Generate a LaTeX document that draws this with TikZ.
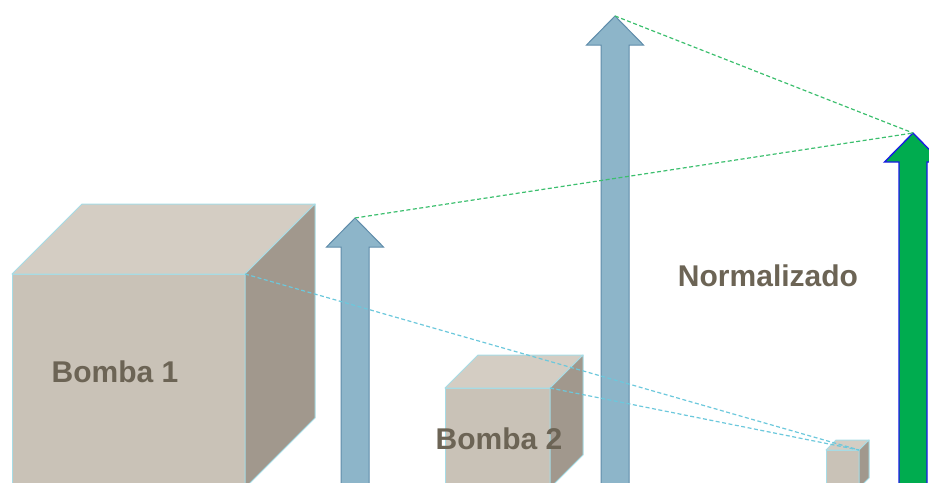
\documentclass[tikz,border=0pt]{standalone}
\usepackage{fontspec}
\setmainfont{Liberation Sans}
\usetikzlibrary{calc}

\definecolor{cubefront}{HTML}{C9C2B7}
\definecolor{cubetop}{HTML}{D4CDC3}
\definecolor{cubeside}{HTML}{A1988D}
\definecolor{cubeedge}{HTML}{A6DCE6}
\definecolor{bluefill}{HTML}{8DB5C9}
\definecolor{blueedge}{HTML}{5F8CAA}
\definecolor{greenfill}{HTML}{00AC4F}
\definecolor{greenedge}{HTML}{1A1AE6}
\definecolor{labelcol}{HTML}{6C6455}
\definecolor{greendash}{HTML}{3CBF6E}
\definecolor{cyandash}{HTML}{6CC8DC}

% cube: name, left, top, width, depth (all sit on the same floor)
\newcommand{\bombacube}[5]{%
  \coordinate (#1) at (#2+#4,#3);
  \filldraw[cubeline,fill=cubefront] (#2,#3) rectangle (#2+#4,488);
  \filldraw[cubeline,fill=cubetop] (#2,#3) -- ++(#5,-#5) -- ++(#4,0) -- (#2+#4,#3) -- cycle;
  \filldraw[cubeline,fill=cubeside] (#2+#4,#3) -- ++(#5,-#5) -- (#2+#4+#5,488-#5) -- (#2+#4,488) -- cycle;
}
% block arrow: name, tip x, tip y, style
\newcommand{\tallarrow}[4]{%
  \coordinate (#1) at (#2,#3);
  \filldraw[#4] (#2,#3) -- (#2+28.5,#3+29) -- (#2+14,#3+29) -- (#2+14,500)
    -- (#2-14,500) -- (#2-14,#3+29) -- (#2-28.5,#3+29) -- cycle;
}

\begin{document}
\begin{tikzpicture}[x=1pt,y=-1pt,
    cubeline/.style={draw=cubeedge,line width=1pt,line join=round},
    bluearrow/.style={fill=bluefill,draw=blueedge,line width=1pt},
    greenarrow/.style={fill=greenfill,draw=greenedge,line width=1.3pt},
    guide/.style={dash pattern=on 4pt off 2.5pt,line width=1.2pt},
    label/.style={font=\fontsize{30}{36}\selectfont\bfseries,text=labelcol}]
  \clip (0,0) rectangle (929,482);

  \bombacube{b1}{12}{274}{233}{70}
  \bombacube{b2}{445}{388}{105}{33}
  \bombacube{b3}{826}{450}{33}{10}

  \tallarrow{a1}{355}{218}{bluearrow}
  \tallarrow{a2}{615}{16}{bluearrow}
  \tallarrow{ag}{913}{133}{greenarrow}

  \node[label] (l1) at (115,372) {Bomba 1};
  \node[label] (l2) at (499,439) {Bomba 2};
  \node[label] (ln) at (768,276) {Normalizado};

  \draw[guide,cyandash] (b1) -- (b3);
  \draw[guide,cyandash] (b2) -- (b3);
  \draw[guide,greendash] (a1) -- (ag);
  \draw[guide,greendash] (a2) -- (ag);
\end{tikzpicture}
\end{document}
